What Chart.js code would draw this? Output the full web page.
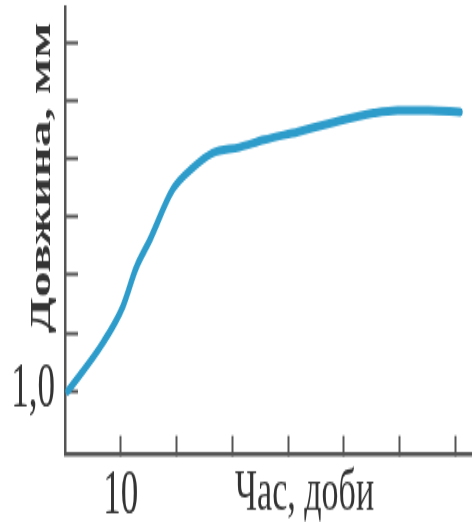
<!DOCTYPE html>
<html>
<head>
<meta charset="utf-8">
<script src="https://cdn.jsdelivr.net/npm/chart.js@4.4.1/dist/chart.umd.min.js"></script>
<style>
    html, body { margin: 0; padding: 0; background: #fff; }
    #wrap { width: 472px; height: 522px; overflow: hidden; }
    /* the source picture is stretched vertically, so the canvas is too */
    #grafica { transform: scaleY(1.7517); transform-origin: 0 0; }
</style>
</head>
<body>
<div id="wrap">
    <canvas id="grafica" width="472" height="298"></canvas>
</div>
<script>
(function() {

    const dias = [8.1, 9.36, 10.07, 10.55, 11.04, 11.86, 12.57, 13.29, 14.25, 15.14, 16.36, 17.54, 19.07, 19.93, 21.04, 22.18];
    const longitudes = [1.0, 1.083, 1.145, 1.212, 1.26, 1.347, 1.384, 1.41, 1.42, 1.433, 1.447, 1.462, 1.479, 1.484, 1.484, 1.481];

    const ticksX = [10, 12, 14, 16, 18, 20, 22];
    const ticksY = [1.0, 1.1, 1.2, 1.3, 1.4, 1.5, 1.6];
    const etiquetasX = { 10: '10' };
    const etiquetasY = { 1: '1,0' };

    const tituloY = 'Довжина, мм';
    const tituloX = 'Час, доби';

    const colorTexto = '#333333';
    const colorEje = '#555555';

    const grafica = document.querySelector('#grafica');

    const titulos = {
        id: 'titulos',
        afterDraw(chart) {
            const ctx = chart.ctx;
            ctx.save();
            ctx.fillStyle = colorTexto;

            ctx.font = 'bold 30px "Liberation Serif"';
            ctx.textAlign = 'center';
            ctx.textBaseline = 'alphabetic';
            ctx.translate(50, 101.6);
            ctx.rotate(-Math.PI / 2);
            ctx.fillText(tituloY, 0, 0);
            ctx.setTransform(1, 0, 0, 1, 0, 0);

            ctx.font = '34px "Liberation Serif"';
            ctx.textAlign = 'left';
            ctx.fillText(tituloX, 235, 291);
            ctx.restore();
        }
    };

    new Chart(grafica, {
        type: 'line',
        data: {
            datasets: [{
                label: '',
                data: dias.map((d, i) => ({ x: d, y: longitudes[i] })),
                borderColor: '#2e9ccb',
                borderWidth: 5,
                borderCapStyle: 'round',
                pointRadius: 0,
                cubicInterpolationMode: 'monotone',
                fill: false
            }]
        },
        options: {
            responsive: false,
            animation: false,
            layout: {
                padding: { top: 4.6, right: 0, left: 0, bottom: 0 }
            },
            scales: {
                x: {
                    type: 'linear',
                    min: 8,
                    max: 22.6,
                    afterBuildTicks: scale => { scale.ticks = ticksX.map(v => ({ value: v })); },
                    afterFit: scale => {
                        scale.height = 38.3;
                        scale.paddingLeft = 0;
                        scale.paddingRight = 0;
                    },
                    border: { color: colorEje, width: 2.5 },
                    grid: { drawOnChartArea: false, tickLength: -11, tickWidth: 2, tickColor: colorEje },
                    ticks: {
                        padding: 14,
                        color: colorTexto,
                        font: { family: 'Liberation Serif', size: 35 },
                        maxRotation: 0,
                        autoSkip: false,
                        callback: value => etiquetasX[value] || ''
                    }
                },
                y: {
                    type: 'linear',
                    min: 0.89,
                    max: 1.66,
                    afterBuildTicks: scale => { scale.ticks = ticksY.map(v => ({ value: v })); },
                    afterFit: scale => {
                        scale.width = 65;
                        scale.paddingTop = 0;
                        scale.paddingBottom = 0;
                    },
                    border: { color: colorEje, width: 2.5 },
                    grid: { drawOnChartArea: false, tickLength: -13, tickWidth: 2, tickColor: colorEje },
                    ticks: {
                        padding: 23,
                        color: colorTexto,
                        font: { family: 'Liberation Serif', size: 35 },
                        autoSkip: false,
                        callback: value => etiquetasY[Math.round(value * 10) / 10] || ''
                    }
                }
            },
            plugins: {
                legend: { display: false },
                tooltip: { enabled: false }
            }
        },
        plugins: [titulos]
    });

})();
</script>
</body>
</html>
